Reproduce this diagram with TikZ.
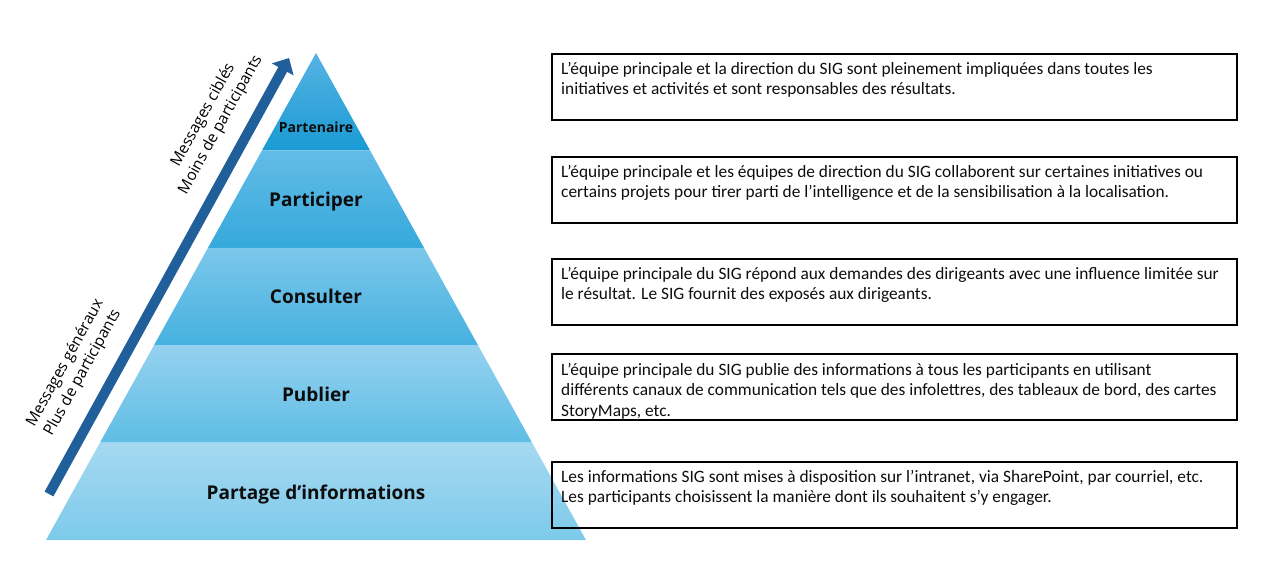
\documentclass[tikz,border=0pt]{standalone}
\usepackage{fontspec}
\setmainfont{Carlito}
\newfontfamily\pyrfont{Open Sans}
\usetikzlibrary{arrows.meta,calc}
\definecolor{arrowblue}{RGB}{33,95,154}
\definecolor{aT}{HTML}{56B3E3}\definecolor{aB}{HTML}{1A9BD4}
\definecolor{bT}{HTML}{63BCE6}\definecolor{bB}{HTML}{35A9DC}
\definecolor{cT}{HTML}{7CC7EB}\definecolor{cB}{HTML}{45B1DF}
\definecolor{dT}{HTML}{95D1EF}\definecolor{dB}{HTML}{5EBDE4}
\definecolor{eT}{HTML}{A6D9F1}\definecolor{eB}{HTML}{7DCAEA}
\definecolor{txt}{HTML}{0D0D0D}
\tikzset{
  descbox/.style={draw=black, line width=2pt, anchor=north west, minimum width=685pt, minimum height=66pt, inner sep=0pt},
  desctext/.style={anchor=north west, inner sep=0pt, align=left, text=txt, font=\fontsize{17.35}{20.5}\selectfont},
  levelbig/.style={anchor=base, inner sep=0pt, text=txt, font=\pyrfont\bfseries\fontsize{19}{21}\selectfont},
  levelsmall/.style={anchor=base, inner sep=0pt, text=txt, font=\pyrfont\bfseries\fontsize{14}{16}\selectfont},
  sidelabel/.style={rotate=61, align=center, inner sep=0pt, text=black, font=\pyrfont\fontsize{15.5}{20}\selectfont}
}
\begin{document}
\begin{tikzpicture}[x=1pt,y=-1pt]
\useasboundingbox (0,0) rectangle (1280,575);
% pyramid bands
\shade[top color=aT, bottom color=aB] (316,53) -- (370,150.4) -- (262,150.4) -- cycle;
\shade[top color=bT, bottom color=bB] (262,150.4) -- (370,150.4) -- (424,247.8) -- (208,247.8) -- cycle;
\shade[top color=cT, bottom color=cB] (208,247.8) -- (424,247.8) -- (478,345.2) -- (154,345.2) -- cycle;
\shade[top color=dT, bottom color=dB] (154,345.2) -- (478,345.2) -- (532,442.6) -- (100,442.6) -- cycle;
\shade[top color=eT, bottom color=eB] (100,442.6) -- (532,442.6) -- (586,540) -- (46,540) -- cycle;
% level labels
\node[levelsmall] (l1) at (316,133) {Partenaire};
\node[levelbig] (l2) at (316,206) {Participer};
\node[levelbig] (l3) at (316,303) {Consulter};
\node[levelbig] (l4) at (316,401) {Publier};
\node[levelbig] (l5) at (316,499) {Partage d’informations};
% arrow
\coordinate (arrS) at (49,494);
\coordinate (arrE) at (289,58);
\draw[arrowblue, line width=10pt, -{Triangle[length=13pt,width=24pt]}] (arrS) -- (arrE);
\node[sidelabel] (s1) at (212,120) {Messages ciblés\\Moins de participants};
\node[sidelabel] (s2) at (74,368) {Messages généraux\\Plus de participants};
% description boxes
\node[descbox] (b1) at (551,53) {};
\node[descbox] (b2) at (551,156) {};
\node[descbox] (b3) at (551,258) {};
\node[descbox] (b4) at (551,353) {};
\node[descbox] (b5) at (551,461) {};
\node[desctext] (t1) at ($(b1.north west)+(10,6.65)$) {\strut L’équipe principale et la direction du SIG sont pleinement impliquées dans toutes les\\initiatives et activités et sont responsables des résultats.};
\node[desctext] (t2) at ($(b2.north west)+(10,6.65)$) {\strut L’équipe principale et les équipes de direction du SIG collaborent sur certaines initiatives ou\\certains projets pour tirer parti de l’intelligence et de la sensibilisation à la localisation.};
\node[desctext] (t3) at ($(b3.north west)+(10,6.65)$) {\strut L’équipe principale du SIG répond aux demandes des dirigeants avec une influence limitée sur\\le résultat. Le SIG fournit des exposés aux dirigeants.};
\node[desctext] (t4) at ($(b4.north west)+(10,7.65)$) {\strut L’équipe principale du SIG publie des informations à tous les participants en utilisant\\différents canaux de communication tels que des infolettres, des tableaux de bord, des cartes\\StoryMaps, etc.};
\node[desctext] (t5) at ($(b5.north west)+(10,6.65)$) {\strut Les informations SIG sont mises à disposition sur l’intranet, via SharePoint, par courriel, etc.\\Les participants choisissent la manière dont ils souhaitent s’y engager.};
\end{tikzpicture}
\end{document}
